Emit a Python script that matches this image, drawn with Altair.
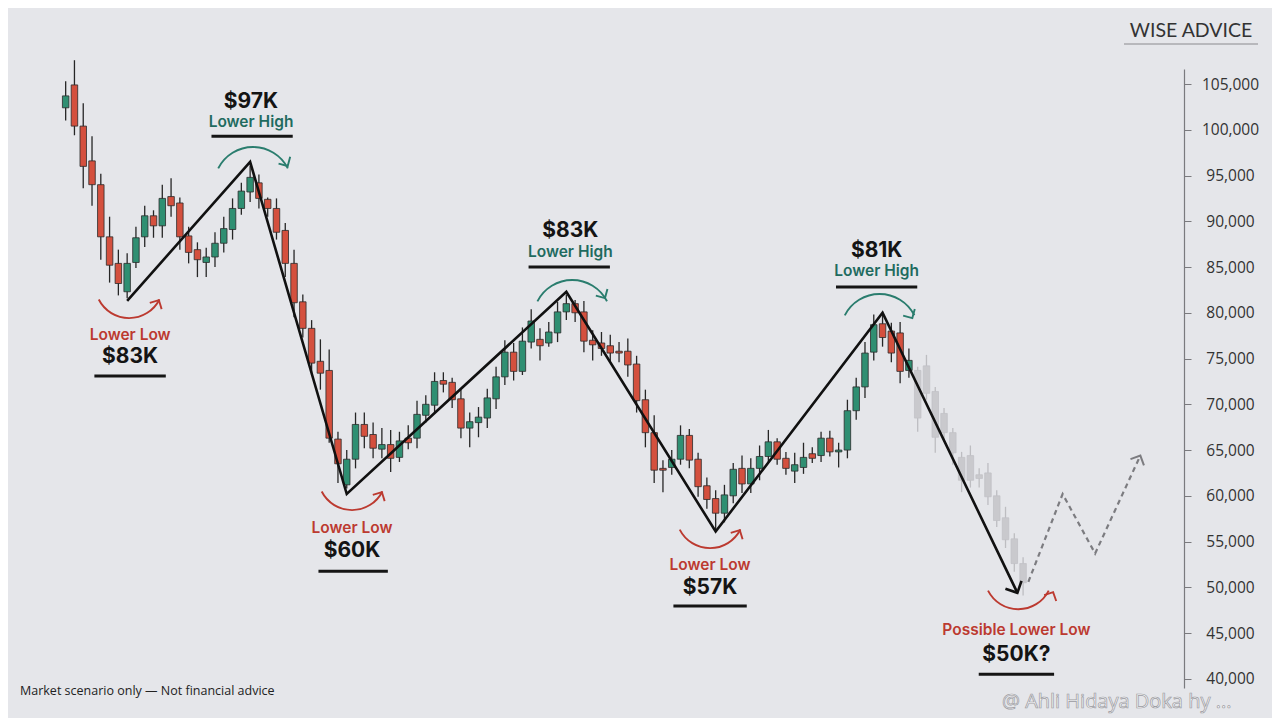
import altair as alt
import pandas as pd

# ---------------- candle data ----------------
opens = [102400, 104900, 100400, 96600, 94000, 88300, 85400, 82300, 85500, 88300,
         90600, 89500, 92700, 92000, 88400, 86900, 85500, 86100, 87600, 89100,
         91400, 93200, 94200, 92400, 91400, 89000, 85400, 81200, 78300, 74700,
         73700, 66200, 61200, 64000, 67800, 66700, 65100, 65600, 64200, 66300,
         66300, 68800, 69900, 72600, 72400, 70600, 67400, 68000, 68500, 70600,
         73000, 75700, 73600, 76800, 77100, 76700, 77800, 80100, 81000, 80100,
         77000, 76700, 76400, 75800, 75800, 74400, 70500, 66900, 63000, 63100,
         64000, 66600, 64000, 61100, 59700, 58100, 60000, 63000, 61300, 63000,
         64300, 65900, 64100, 62700, 63100, 64600, 64400, 66300, 64800, 65000,
         69300, 71900, 75700, 78800, 78000, 77800, 73700,
         73700, 74200, 71400, 69000, 66900, 64200, 64400, 62300, 62500, 60000,
         57600, 55300, 52600]
highs = [105300, 107600, 102900, 99300, 95200, 90500, 86900, 86500, 89400, 91700,
         91200, 94000, 94700, 92600, 89400, 87700, 87100, 88800, 90500, 92500,
         94200, 96100, 95100, 92600, 92500, 89800, 86900, 82000, 79200, 77100,
         76000, 67000, 65000, 69100, 69100, 68000, 67400, 67200, 67000, 67700,
         70400, 71000, 73500, 73500, 72900, 71600, 69100, 69700, 71700, 74100,
         77000, 76700, 78400, 80400, 78300, 79000, 81200, 82000, 81400, 81300,
         78100, 77900, 77600, 76800, 77200, 75300, 71600, 68800, 63900, 65000,
         67700, 67300, 64700, 62000, 60600, 61200, 63600, 64400, 64100, 65500,
         67200, 66300, 64800, 64700, 65800, 65300, 67000, 67100, 65800, 70500,
         72900, 76800, 79800, 79800, 78900, 79000, 76100,
         74100, 75400, 71900, 69600, 67400, 64800, 65500, 63000, 63600, 60600,
         58800, 55900, 53300]
lows = [101000, 99400, 93600, 91700, 85800, 83300, 81900, 81600, 84900, 87200,
        88200, 88200, 90500, 86900, 85400, 83900, 83900, 85000, 86600, 88000,
        90700, 92100, 91400, 90500, 88000, 83900, 79500, 77300, 73200, 71600,
        65800, 61400, 60800, 63000, 65200, 64100, 64100, 62600, 63700, 65100,
        65200, 68000, 69000, 71300, 69600, 66300, 65300, 66400, 67400, 69500,
        72100, 72600, 73200, 76100, 74800, 76300, 76800, 79200, 79000, 75700,
        74800, 75300, 74600, 74600, 73000, 69100, 65300, 61400, 60400, 62300,
        63400, 63000, 59900, 58600, 56300, 57100, 59200, 60300, 60300, 61700,
        63600, 63400, 62300, 61400, 62400, 63600, 63700, 64300, 63100, 64100,
        68300, 70700, 74800, 76300, 74600, 72300, 72900,
        67000, 70500, 64700, 65900, 63400, 60400, 60900, 60900, 59000, 56600,
        54300, 51700, 49100]
closes = [103700, 100400, 96000, 94000, 88300, 85200, 83200, 85400, 88200, 90600,
          89500, 92500, 91700, 88300, 86600, 85800, 86100, 87600, 89200, 91400,
          93300, 94800, 92500, 91400, 88800, 85400, 81100, 78300, 74500, 73400,
          66300, 63500, 64000, 67800, 66500, 65200, 65600, 64100, 66000, 65800,
          68900, 70000, 72500, 72200, 70500, 67400, 68100, 68600, 70700, 73000,
          75700, 73600, 76900, 79100, 76400, 77900, 80100, 81000, 80000, 76900,
          76500, 76100, 75600, 75600, 74300, 70400, 66900, 62800, 62800, 64000,
          66600, 63900, 61000, 59600, 58100, 60100, 62900, 61300, 63000, 64300,
          65900, 64000, 63000, 63400, 64200, 64100, 66300, 64800, 65000, 69300,
          71900, 75600, 78700, 77300, 75600, 73600, 74800,
          68500, 71200, 66400, 66900, 64700, 61700, 61700, 61900, 59900, 57300,
          55200, 52600, 50500]
FADED_FROM = 97  # projected (faded) candles start here

# ---------------- structure lines ----------------
zig_i = [7, 21, 32, 57, 74, 93, 108.35]
zig_p = [81300, 96500, 60200, 82300, 56100, 80000, 49400]
proj_i = [109.6, 113.5, 117.2, 122.35]
proj_p = [50600, 60200, 53700, 64400]

# ---------------- annotations ----------------
price_txt = ["$97K", "$83K", "$81K", "$83K", "$60K", "$57K", "$50K?"]
price_i = [21.1, 57.45, 92.33, 7.34, 32.6, 73.36, 108.24]
price_p = [103000, 88930, 86750, 75160, 53960, 49910, 42590]

high_txt = ["Lower High", "Lower High", "Lower High"]
high_i = [21.1, 57.45, 92.33]
high_p = [100800, 86640, 84560]

low_txt = ["Lower Low", "Lower Low", "Lower Low", "Possible Lower Low"]
low_i = [7.34, 32.6, 73.36, 108.24]
low_p = [77570, 56470, 52430, 45320]

ul_i1 = [16.6, 52.7, 87.7, 3.27, 28.78, 69.19, 103.95]
ul_i2 = [25.85, 61.96, 96.95, 11.40, 36.68, 77.54, 112.53]
ul_p = [99300, 85000, 82810, 73080, 51770, 47950, 40510]

top_arc_i = [21.33, 57.67, 92.66]
top_arc_p = [93850, 79320, 77790]
bot_arc_i = [7.22, 32.6, 73.36, 108.46]
bot_arc_p = [83140, 62160, 58000, 51330]

tip_i = [25.28, 61.4, 96.39, 10.61, 36.0, 76.75, 112.42]
tip_p = [96040, 81610, 79420, 81390, 60410, 56250, 49480]
tip_ang = [60, 60, 60, 298, 298, 298, 296]
tip_kind = ["high", "high", "high", "low", "low", "low", "low"]

tick_vals = list(range(40000, 105001, 5000))

# ---------------- styling ----------------
BG = "#e5e6ea"
GREEN = "#2f8f72"
RED = "#d4503e"
TEAL_TXT = "#1f6b5f"
TEAL_ARC = "#2a7d6e"
RED_TXT = "#bc3a30"
FADED = "#c9c9cd"

candles = pd.DataFrame({"i": list(range(len(opens))), "open": opens, "high": highs,
                        "low": lows, "close": closes})
candles["kind"] = ["faded" if k >= FADED_FROM else ("up" if c >= o else "down")
                   for k, o, c in zip(candles["i"], opens, closes)]

xs = alt.Scale(domain=[-4.63, 126.75], nice=False, zero=False)
ys = alt.Scale(domain=[39000, 106640], nice=False, zero=False)
y_axis = alt.Axis(orient="right", values=tick_vals, title=None,
                  labelExpr="format(datum.value, ',')",
                  grid=False, domainColor="#7a7a7e", domainWidth=1.2,
                  tickColor="#7a7a7e", tickSize=7, tickWidth=1,
                  labelPadding=39, labelAlign="center", labelFontSize=15.5,
                  labelColor="#333333", labelFont="Open Sans")

X = lambda f: alt.X(f, type="quantitative", scale=xs, axis=None)
Y = lambda f: alt.Y(f, type="quantitative", scale=ys, axis=y_axis)

base = alt.Chart(candles)

wicks = base.mark_rule(strokeWidth=1.3).encode(
    x=X("i"),
    y=Y("low"),
    y2="high:Q",
    color=alt.condition("datum.kind == 'faded'", alt.value("#bdbdc1"), alt.value("#262626")),
)

bodies = base.mark_bar(size=6.5, strokeWidth=0.8).encode(
    x=X("i"),
    y=Y("open"),
    y2="close:Q",
    fill=alt.Fill("kind:N", scale=alt.Scale(domain=["up", "down", "faded"],
                                            range=[GREEN, RED, FADED]), legend=None),
    stroke=alt.condition("datum.kind == 'faded'", alt.value("#c2c2c6"), alt.value("#2b2b2b")),
)

zig_df = pd.DataFrame({"i": zig_i, "p": zig_p})
zig = alt.Chart(zig_df).mark_line(color="#111111", strokeWidth=2.6, strokeJoin="miter").encode(
    x=X("i"), y=Y("p"))
zig_tip = alt.Chart(zig_df.tail(1)).mark_point(
    shape="M-1,-1L0,0L-1,1", filled=False, size=320, strokeWidth=2.6, color="#111111",
    angle=64, opacity=1).encode(x=X("i"), y=Y("p"))

proj_df = pd.DataFrame({"i": proj_i, "p": proj_p})
proj = alt.Chart(proj_df).mark_line(color="#7c7c80", strokeWidth=2.2, strokeDash=[5, 4]).encode(
    x=X("i"), y=Y("p"))
proj_tip = alt.Chart(proj_df.tail(1)).mark_point(
    shape="M-1,-1L0,0L-1,1", filled=False, size=220, strokeWidth=2, color="#7c7c80",
    angle=295, opacity=1).encode(x=X("i"), y=Y("p"))

top_arcs = alt.Chart(pd.DataFrame({"i": top_arc_i, "p": top_arc_p})).mark_arc(
    radius=40, radius2=38.1, theta=5.183, theta2=7.383, color=TEAL_ARC).encode(
    x=X("i"), y=Y("p"))
bot_arcs = alt.Chart(pd.DataFrame({"i": bot_arc_i, "p": bot_arc_p})).mark_arc(
    radius=35, radius2=33.1, theta=2.04, theta2=4.24, color=RED_TXT).encode(
    x=X("i"), y=Y("p"))

tips = alt.Chart(pd.DataFrame({"i": tip_i, "p": tip_p, "a": tip_ang, "k": tip_kind})).mark_point(
    shape="M-1,-1L0,0L-1,1", filled=False, size=180, strokeWidth=1.9, opacity=1).encode(
    x=X("i"), y=Y("p"), angle=alt.Angle("a:Q", scale=None),
    stroke=alt.Stroke("k:N", scale=alt.Scale(domain=["high", "low"], range=[TEAL_ARC, RED_TXT]),
                      legend=None))

underlines = alt.Chart(pd.DataFrame({"i1": ul_i1, "i2": ul_i2, "p": ul_p})).mark_rule(
    color="#151515", strokeWidth=3).encode(x=X("i1"), x2="i2:Q", y=Y("p"))

prices = alt.Chart(pd.DataFrame({"i": price_i, "p": price_p, "t": price_txt})).mark_text(
    font="Inter", fontSize=21, fontWeight="bold", color="#141414", align="center",
    baseline="middle").encode(x=X("i"), y=Y("p"), text="t:N")
highs_t = alt.Chart(pd.DataFrame({"i": high_i, "p": high_p, "t": high_txt})).mark_text(
    font="Inter", fontSize=15.5, fontWeight=600, color=TEAL_TXT, align="center",
    baseline="middle").encode(x=X("i"), y=Y("p"), text="t:N")
lows_t = alt.Chart(pd.DataFrame({"i": low_i, "p": low_p, "t": low_txt})).mark_text(
    font="Inter", fontSize=15.5, fontWeight=600, color=RED_TXT, align="center",
    baseline="middle").encode(x=X("i"), y=Y("p"), text="t:N")

one = pd.DataFrame({"a": [0]})
brand = alt.Chart(one).mark_text(text="WISE ADVICE", font="Lato", fontSize=19.5,
                                 color="#333333", align="center", baseline="middle").encode(
    x=alt.value(1171), y=alt.value(-38))
brand_ul = alt.Chart(one).mark_rule(color="#8a8a8e", strokeWidth=1).encode(
    x=alt.value(1104), x2=alt.value(1238), y=alt.value(-25))
foot = alt.Chart(one).mark_text(text="Market scenario only \u2014 Not financial advice",
                                font="Open Sans", fontSize=12.5, color="#222222",
                                align="left", baseline="middle").encode(
    x=alt.value(0), y=alt.value(622))
water = alt.Chart(one).mark_text(text="@ Ahli Hidaya Doka hy ...", font="Open Sans",
                                 fontSize=20, color="#f7f7f9", stroke="#9a9aa0",
                                 strokeWidth=0.7, align="left", baseline="middle").encode(
    x=alt.value(982), y=alt.value(633))

chart = alt.layer(
    wicks, bodies, proj, proj_tip, zig, zig_tip, top_arcs, bot_arcs, tips,
    underlines, prices, highs_t, lows_t, brand, brand_ul, foot, water
).resolve_scale(fill="independent", stroke="independent", color="independent").properties(
    width=1164, height=619,
    padding={"left": 12, "top": 61, "right": 88, "bottom": 30},
    autosize=alt.AutoSizeParams(type="none"),
    background=BG,
).configure_view(stroke=None)

chart.save("out.html", embed_options={"renderer": "svg", "actions": False})
